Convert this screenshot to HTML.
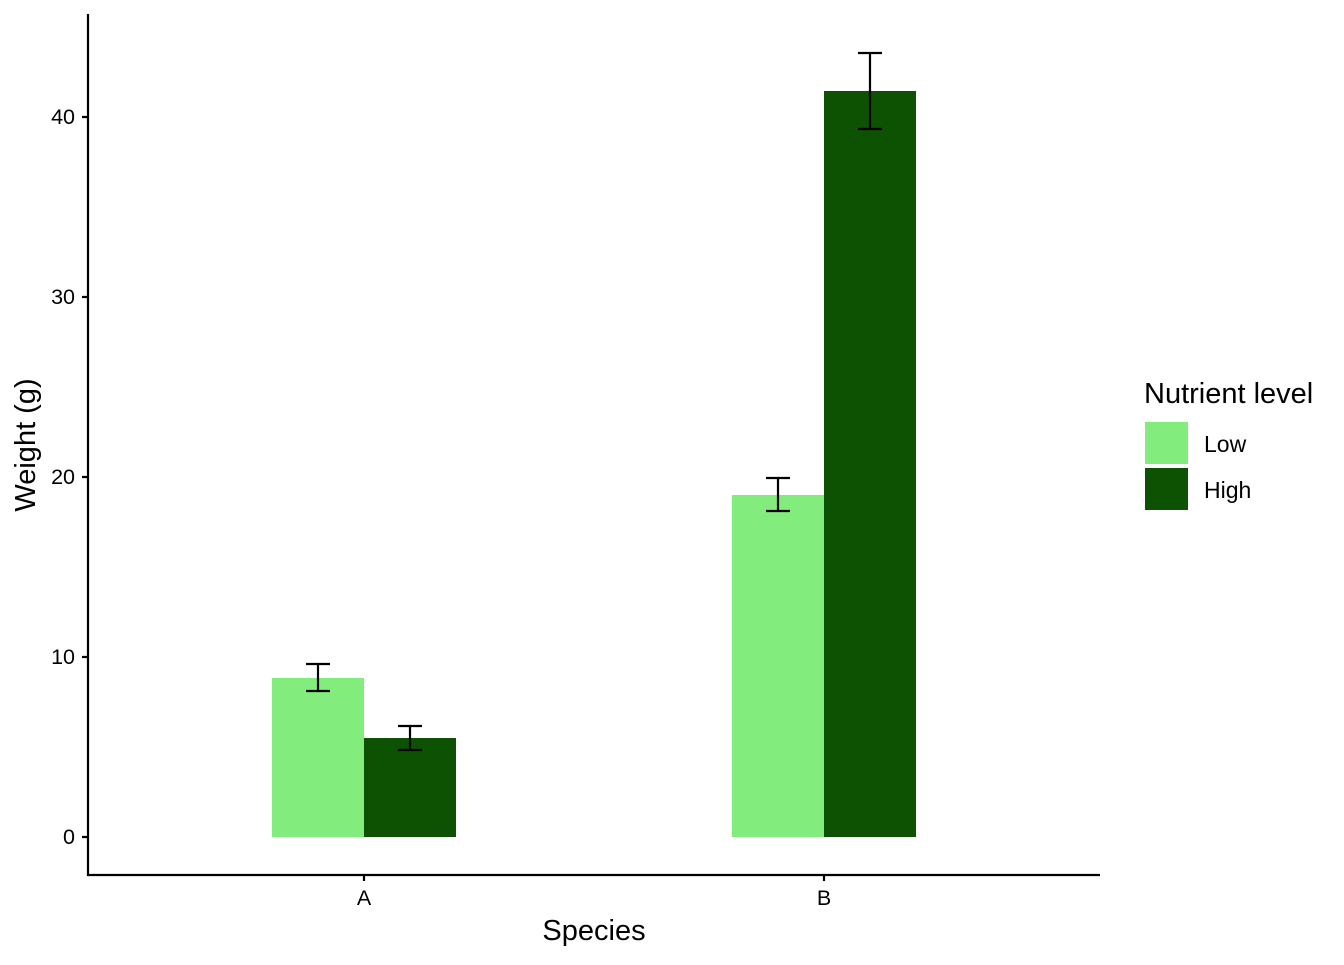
<!DOCTYPE html>
<html><head><style>body{margin:0;background:#fff}</style></head><body>
<svg width="1344" height="960" xmlns="http://www.w3.org/2000/svg" font-family="Liberation Sans, Arial, sans-serif">
<rect width="1344" height="960" fill="#fff"/>
<rect x="272" y="678" width="92" height="159" fill="#82ed7d"/>
<rect x="364" y="738" width="92" height="99" fill="#0c5202"/>
<rect x="732" y="495" width="92" height="342" fill="#82ed7d"/>
<rect x="824" y="91" width="92" height="746" fill="#0c5202"/>
<g stroke="#000" stroke-width="2.2" fill="none">
<path d="M318 664V691M306 664H330M306 691H330"/>
<path d="M410 726V750M398 726H422M398 750H422"/>
<path d="M778 478V511M766 478H790M766 511H790"/>
<path d="M870 53V129M858 53H882M858 129H882"/>
<path d="M88 14V876M87 875H1100"/>
<path d="M82 117H88M82 297H88M82 477H88M82 657H88M82 837H88"/>
<path d="M364 875V881M824 875V881"/>
</g>
<g font-size="21.5" fill="#000" text-anchor="end">
<text x="75" y="124">40</text><text x="75" y="304">30</text><text x="75" y="484">20</text><text x="75" y="664">10</text><text x="75" y="844">0</text>
</g>
<g font-size="21.5" text-anchor="middle"><text x="364" y="905">A</text><text x="824" y="905">B</text></g>
<text x="594" y="940" font-size="29" text-anchor="middle">Species</text>
<text transform="translate(35,445) rotate(-90)" font-size="29" text-anchor="middle">Weight (g)</text>
<text x="1144" y="403" font-size="29">Nutrient level</text>
<rect x="1145" y="422" width="43" height="42" fill="#82ed7d"/>
<rect x="1145" y="468" width="43" height="42" fill="#0c5202"/>
<text x="1204" y="452" font-size="23">Low</text>
<text x="1204" y="498" font-size="23">High</text>
</svg>
</body></html>
